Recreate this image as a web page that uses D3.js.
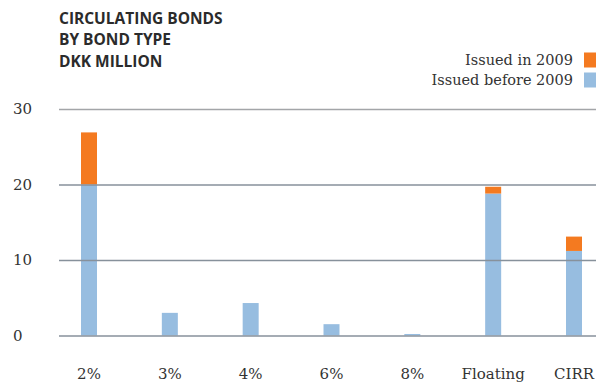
<!DOCTYPE html>
<html>
<head>
<meta charset="utf-8">
<script src="https://cdn.jsdelivr.net/npm/d3@7"></script>
<style>
  html, body { margin: 0; padding: 0; background: #fff; }
  svg { display: block; }
</style>
</head>
<body>
<svg id="chart" width="596" height="382"></svg>
<script>
// Circulating bonds by bond type, DKK million
const categories = ["2%", "3%", "4%", "6%", "8%", "Floating", "CIRR"];
const issuedBefore2009 = [20.0, 3.0, 4.3, 1.5, 0.2, 18.8, 11.2];
const issuedIn2009 = [6.9, 0, 0, 0, 0, 0.9, 1.9];
const yTicks = [0, 10, 20, 30];
const seriesNames = ["Issued in 2009", "Issued before 2009"];
const titleLines = ["CIRCULATING BONDS", "BY BOND TYPE", "DKK MILLION"];

const colors = { before: "#97bde0", in2009: "#f47a20" };
const serif = "'DejaVu Serif', 'Liberation Serif', serif";
const sans = "'Open Sans', 'DejaVu Sans', sans-serif";

const svg = d3.select("#chart");

const y = d3.scaleLinear().domain([0, 30]).range([335.5, 109]);
const x = d3.scalePoint().domain(categories).range([89, 574]);
const barW = 16;

const rows = categories.map((c, i) => ({
  cat: c,
  before: issuedBefore2009[i],
  in2009: issuedIn2009[i]
}));

const stack = d3.stack().keys(["before", "in2009"])(rows);

// Bars
svg.append("g").selectAll("g")
  .data(stack)
  .join("g")
  .attr("fill", d => colors[d.key])
  .selectAll("rect")
  .data(d => d.filter(p => p[1] - p[0] > 0))
  .join("rect")
  .attr("x", d => x(d.data.cat) - barW / 2)
  .attr("width", barW)
  .attr("y", d => y(d[1]))
  .attr("height", d => y(d[0]) - y(d[1]));

// Gridlines drawn over bars
const grid = svg.append("g")
  .attr("transform", "translate(59,0)")
  .call(d3.axisLeft(y).tickValues(yTicks).tickSize(-(596 - 59)).tickFormat(""));
grid.select(".domain").remove();
grid.selectAll(".tick line")
  .attr("stroke", d => d === 30 ? "#a3a5a8" : "#87919b")
  .attr("stroke-width", 1.6);

// Y tick labels
svg.append("g").selectAll("text")
  .data(yTicks)
  .join("text")
  .attr("x", 13)
  .attr("y", d => y(d))
  .attr("dy", "0.35em")
  .attr("font-family", serif)
  .attr("font-size", 15)
  .attr("fill", "#333")
  .text(d => d);

// X category labels
svg.append("g").selectAll("text")
  .data(categories)
  .join("text")
  .attr("x", d => x(d))
  .attr("y", 378.5)
  .attr("text-anchor", "middle")
  .attr("font-family", serif)
  .attr("font-size", 15)
  .attr("fill", "#333")
  .text(d => d);

// Title
svg.append("g").selectAll("text")
  .data(titleLines)
  .join("text")
  .attr("x", 59)
  .attr("y", (d, i) => 23.5 + i * 21.5)
  .attr("font-family", sans)
  .attr("font-weight", 700)
  .attr("font-size", 15.5)
  .attr("fill", "#2b2b2b")
  .text(d => d);

// Legend
const legend = svg.append("g").selectAll("g")
  .data(seriesNames)
  .join("g")
  .attr("transform", (d, i) => `translate(0, ${60 + i * 20})`);
legend.append("text")
  .attr("x", 573)
  .attr("y", 0)
  .attr("dy", "0.35em")
  .attr("text-anchor", "end")
  .attr("font-family", serif)
  .attr("font-size", 14.5)
  .attr("fill", "#333")
  .text(d => d);
legend.append("rect")
  .attr("x", 584)
  .attr("y", -7.5)
  .attr("width", 12)
  .attr("height", 15)
  .attr("fill", (d, i) => i === 0 ? colors.in2009 : colors.before);
</script>
</body>
</html>
